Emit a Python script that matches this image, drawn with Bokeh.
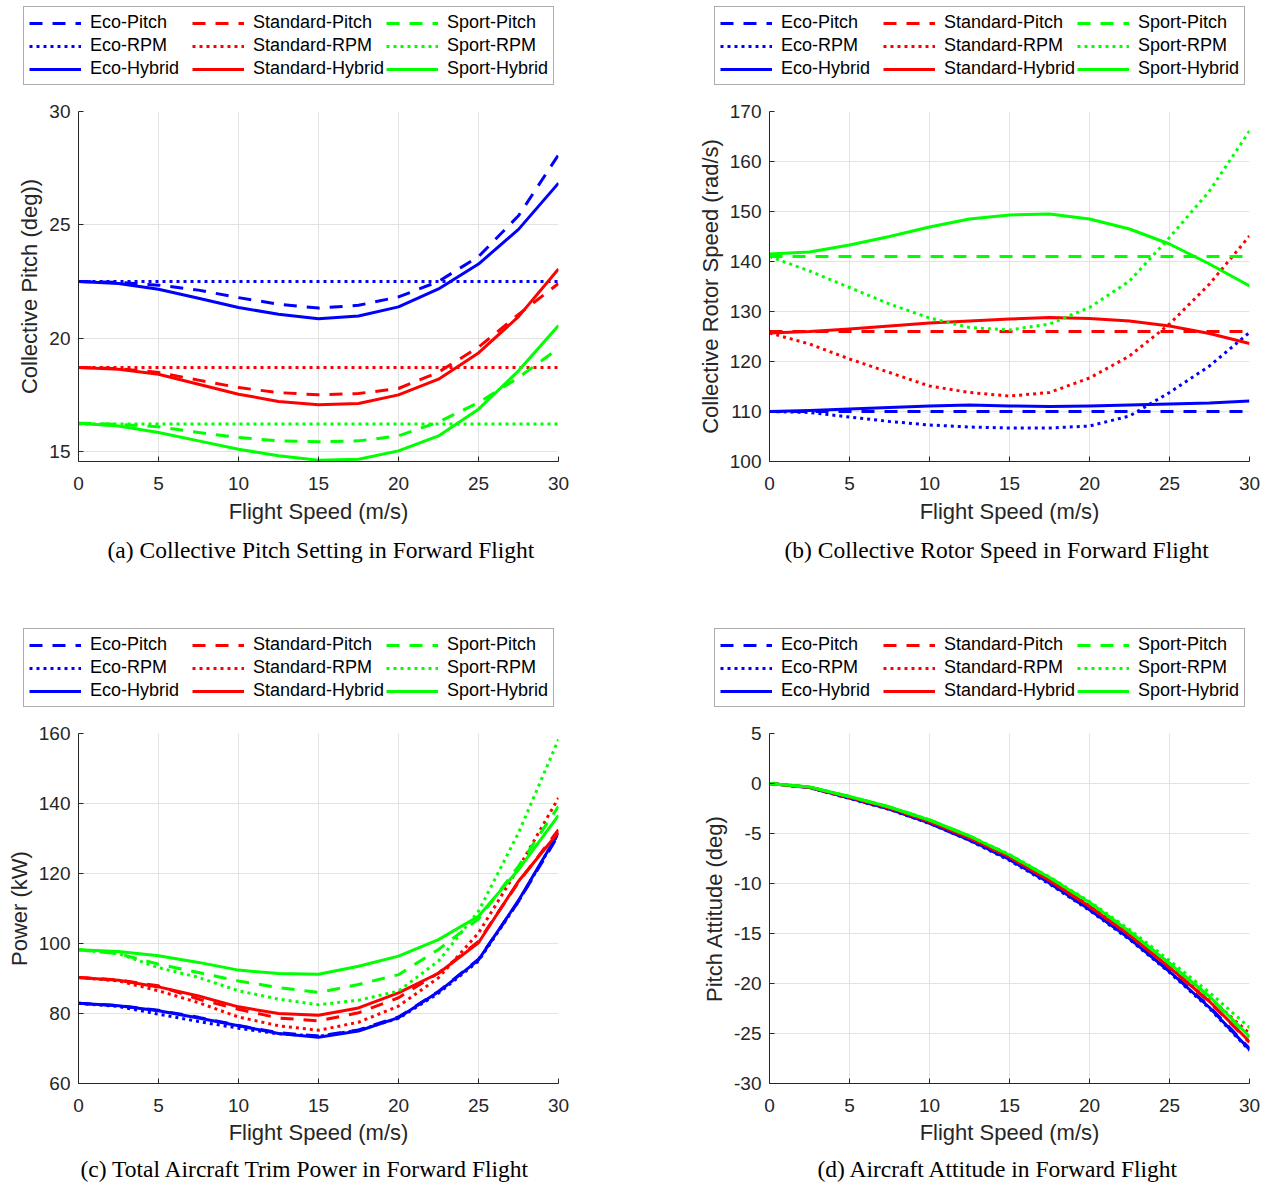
from bokeh.plotting import figure
from bokeh.models import Range1d, FixedTicker, Legend, LegendItem, Title
from bokeh.layouts import column, row
from bokeh.embed import file_html
from bokeh.resources import INLINE

# ---------------- data ----------------
speed = [0, 2.5, 5, 7.5, 10, 12.5, 15, 17.5, 20, 22.5, 25, 27.5, 30]
x_ticks = [0, 5, 10, 15, 20, 25, 30]
x_tick_labels = ["0", "5", "10", "15", "20", "25", "30"]

modes = ["Eco", "Standard", "Sport"]
strategies = ["Pitch", "RPM", "Hybrid"]

# (a) collective pitch (deg)
pitch_eco_pitch = [22.5, 22.46, 22.34, 22.12, 21.79, 21.5, 21.33, 21.45, 21.82, 22.5, 23.6, 25.4, 28.09]
pitch_eco_rpm = [22.5, 22.5, 22.5, 22.5, 22.5, 22.5, 22.5, 22.5, 22.5, 22.5, 22.5, 22.5, 22.5]
pitch_eco_hybrid = [22.5, 22.41, 22.16, 21.76, 21.35, 21.06, 20.86, 20.98, 21.38, 22.17, 23.27, 24.8, 26.84]
pitch_std_pitch = [18.71, 18.66, 18.49, 18.15, 17.82, 17.6, 17.5, 17.56, 17.78, 18.5, 19.6, 21.05, 22.41]
pitch_std_rpm = [18.71, 18.71, 18.71, 18.71, 18.71, 18.71, 18.71, 18.71, 18.71, 18.71, 18.71, 18.71, 18.71]
pitch_std_hybrid = [18.71, 18.63, 18.41, 17.97, 17.53, 17.21, 17.06, 17.12, 17.5, 18.19, 19.35, 20.95, 23.05]
pitch_spt_pitch = [16.25, 16.2, 16.09, 15.84, 15.62, 15.47, 15.43, 15.47, 15.69, 16.3, 17.16, 18.26, 19.55]
pitch_spt_rpm = [16.21, 16.21, 16.21, 16.21, 16.21, 16.21, 16.21, 16.21, 16.21, 16.21, 16.21, 16.21, 16.21]
pitch_spt_hybrid = [16.25, 16.13, 15.84, 15.47, 15.1, 14.81, 14.62, 14.66, 15.03, 15.69, 16.87, 18.56, 20.56]
pitch_ticks = [15, 20, 25, 30]
pitch_tick_labels = ["15", "20", "25", "30"]

# (b) rotor speed (rad/s)
rotor_eco_pitch = [110, 110, 110, 110, 110, 110, 110, 110, 110, 110, 110, 110, 110]
rotor_eco_rpm = [110, 109.8, 108.9, 108.0, 107.3, 106.9, 106.7, 106.7, 107.1, 109.1, 113.8, 119.1, 125.8]
rotor_eco_hybrid = [110, 110.2, 110.5, 110.8, 111.1, 111.3, 111.1, 111.0, 111.1, 111.3, 111.5, 111.7, 112.1]
rotor_std_pitch = [126, 126, 126, 126, 126, 126, 126, 126, 126, 126, 126, 126, 126]
rotor_std_rpm = [125.7, 123.5, 120.5, 117.8, 115.1, 113.8, 113.1, 113.8, 116.7, 121.1, 127.5, 135.5, 145.1]
rotor_std_hybrid = [125.7, 126.0, 126.5, 127.1, 127.7, 128.1, 128.5, 128.8, 128.6, 128.1, 127.1, 125.6, 123.6]
rotor_spt_pitch = [141, 141, 141, 141, 141, 141, 141, 141, 141, 141, 141, 141, 141]
rotor_spt_rpm = [141.0, 138.1, 134.8, 131.5, 128.7, 126.8, 126.3, 127.5, 130.8, 136.1, 144.8, 154.1, 166.1]
rotor_spt_hybrid = [141.5, 141.9, 143.3, 145.0, 146.9, 148.5, 149.3, 149.5, 148.5, 146.5, 143.5, 139.5, 135.1]
rotor_ticks = [100, 110, 120, 130, 140, 150, 160, 170]
rotor_tick_labels = ["100", "110", "120", "130", "140", "150", "160", "170"]

# (c) power (kW)
power_eco_pitch = [82.9, 82.3, 80.9, 78.9, 76.6, 74.5, 73.6, 75.3, 79.0, 86.3, 95.5, 112.0, 131.0]
power_eco_rpm = [82.9, 82.0, 79.8, 77.7, 75.8, 74.2, 73.5, 75.2, 78.6, 85.8, 95.0, 112.0, 131.5]
power_eco_hybrid = [82.9, 82.2, 80.8, 78.7, 76.5, 74.3, 73.2, 75.0, 78.8, 86.2, 95.3, 112.3, 131.6]
power_std_pitch = [90.3, 89.6, 87.9, 84.1, 81.2, 78.7, 77.9, 80.2, 84.5, 91.6, 100.6, 117.5, 132.5]
power_std_rpm = [90.3, 89.3, 86.5, 83.1, 79.0, 76.5, 75.2, 77.5, 82.1, 90.2, 103.0, 121.6, 141.6]
power_std_hybrid = [90.3, 89.5, 87.6, 85.0, 81.9, 80.0, 79.5, 81.6, 85.9, 91.5, 100.2, 117.8, 131.8]
power_spt_pitch = [98.2, 97.1, 94.1, 91.7, 89.3, 87.4, 86.0, 88.3, 91.1, 98.3, 107.0, 122.1, 139.2]
power_spt_rpm = [98.2, 97.1, 93.1, 90.3, 86.5, 84.1, 82.5, 83.8, 86.4, 95.0, 109.2, 131.6, 158.3]
power_spt_hybrid = [98.2, 97.7, 96.5, 94.6, 92.4, 91.4, 91.2, 93.5, 96.4, 101.1, 107.8, 121.1, 136.6]
power_ticks = [60, 80, 100, 120, 140, 160]
power_tick_labels = ["60", "80", "100", "120", "140", "160"]

# (d) pitch attitude (deg)
att_eco_pitch = [0, -0.4, -1.45, -2.55, -3.95, -5.65, -7.6, -9.95, -12.6, -15.45, -18.75, -22.3, -26.5]
att_eco_rpm = [0, -0.42, -1.5, -2.6, -4.0, -5.7, -7.7, -10.05, -12.7, -15.6, -18.9, -22.5, -26.7]
att_eco_hybrid = [0, -0.4, -1.45, -2.55, -3.95, -5.65, -7.6, -9.95, -12.6, -15.5, -18.8, -22.4, -26.6]
att_std_pitch = [0, -0.38, -1.38, -2.45, -3.8, -5.45, -7.35, -9.7, -12.3, -15.15, -18.4, -21.85, -25.9]
att_std_rpm = [0, -0.37, -1.35, -2.42, -3.75, -5.4, -7.3, -9.6, -12.2, -15.0, -18.1, -21.4, -25.0]
att_std_hybrid = [0, -0.38, -1.38, -2.45, -3.8, -5.45, -7.35, -9.7, -12.3, -15.15, -18.4, -21.8, -25.8]
att_spt_pitch = [0, -0.35, -1.3, -2.35, -3.65, -5.25, -7.15, -9.4, -11.9, -14.8, -18.0, -21.35, -25.4]
att_spt_rpm = [0, -0.35, -1.3, -2.35, -3.65, -5.25, -7.1, -9.35, -11.8, -14.6, -17.7, -20.9, -24.4]
att_spt_hybrid = [0, -0.35, -1.3, -2.35, -3.65, -5.25, -7.15, -9.4, -11.9, -14.8, -18.0, -21.3, -25.3]
att_ticks = [-30, -25, -20, -15, -10, -5, 0, 5]
att_tick_labels = ["-30", "-25", "-20", "-15", "-10", "-5", "0", "5"]

captions = ["(a) Collective Pitch Setting in Forward Flight",
            "(b) Collective Rotor Speed in Forward Flight",
            "(c) Total Aircraft Trim Power in Forward Flight",
            "(d) Aircraft Attitude in Forward Flight"]

# ---------------- styling ----------------
COLORS = {"Eco": "#0000ff", "Standard": "#ff0000", "Sport": "#00ff00"}
DASHES = {"Pitch": "13 10", "RPM": "3 4", "Hybrid": "solid"}
AX = "#262626"
SANS = "Liberation Sans"
SERIF = "Liberation Serif"
LEG_H = 101


def legend_fig(width, series):
    # legend-only strip; its proxy lines use the real series but lie outside its view
    lf = figure(width=width, height=LEG_H, output_backend="svg", toolbar_location=None,
                x_axis_type=None, y_axis_type=None,
                x_range=Range1d(1000, 1001), y_range=Range1d(1000, 1001), min_border=0)
    try:
        lf.frame_align = False
    except Exception:
        pass
    lf.outline_line_color = None
    lf.xgrid.visible = False
    lf.ygrid.visible = False
    lf.background_fill_color = "white"
    lf.border_fill_color = "white"
    items = []
    for m in modes:
        for s in strategies:
            r = lf.line(speed, series[(m, s)], line_color=COLORS[m], line_width=3,
                        line_dash=DASHES[s], line_cap="butt")
            items.append(LegendItem(label=f"{m}-{s}", renderers=[r]))
    legend = Legend(items=items, location=(23, LEG_H - 85), orientation="vertical", nrows=3,
                    glyph_width=52, glyph_height=18, label_height=18, label_width=100,
                    label_standoff=9, spacing=2, padding=5, margin=0,
                    label_text_font=SANS, label_text_font_size="18px",
                    label_text_color="black", border_line_color="#5a5a5a",
                    border_line_width=1, background_fill_color="white",
                    background_fill_alpha=1.0)
    lf.add_layout(legend)
    return lf


def panel(series, ylabel, ylo, yhi, yticks, ylabels, caption, width, height,
          min_bottom, cap_offset, cap_standoff, xlab_standoff):
    p = figure(width=width, height=height, output_backend="svg", toolbar_location=None,
               x_range=Range1d(0, 30), y_range=Range1d(ylo, yhi),
               min_border_left=78, min_border_right=width - 558,
               min_border_top=10, min_border_bottom=min_bottom)
    p.outline_line_color = None
    p.background_fill_color = "white"
    p.border_fill_color = "white"

    for m in modes:
        for s in strategies:
            p.line(speed, series[(m, s)], line_color=COLORS[m], line_width=3,
                   line_dash=DASHES[s], line_cap="butt", line_join="round")

    p.xaxis.ticker = FixedTicker(ticks=x_ticks)
    p.xaxis.major_label_overrides = dict(zip(x_ticks, x_tick_labels))
    p.yaxis.ticker = FixedTicker(ticks=yticks)
    p.yaxis.major_label_overrides = dict(zip(yticks, ylabels))
    p.xaxis.axis_label = "Flight Speed (m/s)"
    p.yaxis.axis_label = ylabel
    for ax in (p.xaxis, p.yaxis):
        ax.axis_line_color = AX
        ax.axis_line_width = 1
        ax.major_tick_line_color = AX
        ax.major_tick_in = 5
        ax.major_tick_out = 0
        ax.minor_tick_line_color = None
        ax.major_label_text_font = SANS
        ax.major_label_text_font_size = "19px"
        ax.major_label_text_color = AX
        ax.axis_label_text_font = SANS
        ax.axis_label_text_font_size = "22px"
        ax.axis_label_text_font_style = "normal"
        ax.axis_label_text_color = AX
    p.xaxis.major_label_standoff = 15
    p.xaxis.axis_label_standoff = xlab_standoff
    p.yaxis.major_label_standoff = 8
    p.yaxis.axis_label_standoff = 4
    for g in (p.xgrid, p.ygrid):
        g.grid_line_color = "#e3e3e3"
        g.grid_line_width = 1

    cap = Title(text=caption, align="left", text_font=SERIF, text_font_size="23.5px",
                text_font_style="normal", text_color="black", offset=cap_offset,
                standoff=cap_standoff)
    p.add_layout(cap, "below")
    return p


def collect(prefix):
    g = globals()
    keys = {"Eco": "eco", "Standard": "std", "Sport": "spt"}
    return {(m, s): g[f"{prefix}_{keys[m]}_{s.lower()}"] for m in modes for s in strategies}


sa, sb, sc, sd = collect("pitch"), collect("rotor"), collect("power"), collect("att")

pa = panel(sa, "Collective Pitch (deg))", 14.56, 30, pitch_ticks, pitch_tick_labels,
           captions[0], 691, 622 - LEG_H, 161, 29, 17, 6)
pb = panel(sb, "Collective Rotor Speed (rad/s)", 100, 170, rotor_ticks, rotor_tick_labels,
           captions[1], 576, 622 - LEG_H, 161, 15, 17, 6)
pc = panel(sc, "Power (kW)", 60, 160, power_ticks, power_tick_labels,
           captions[2], 691, 565 - LEG_H, 104, 2, 12, 5)
pd = panel(sd, "Pitch Attitude (deg)", -30, 5, att_ticks, att_tick_labels,
           captions[3], 576, 565 - LEG_H, 104, 48, 12, 5)

layout = column(
    row(column(legend_fig(691, sa), pa), column(legend_fig(576, sb), pb)),
    row(column(legend_fig(691, sc), pc), column(legend_fig(576, sd), pd)),
)
open("out.html", "w").write(file_html(layout, INLINE))
